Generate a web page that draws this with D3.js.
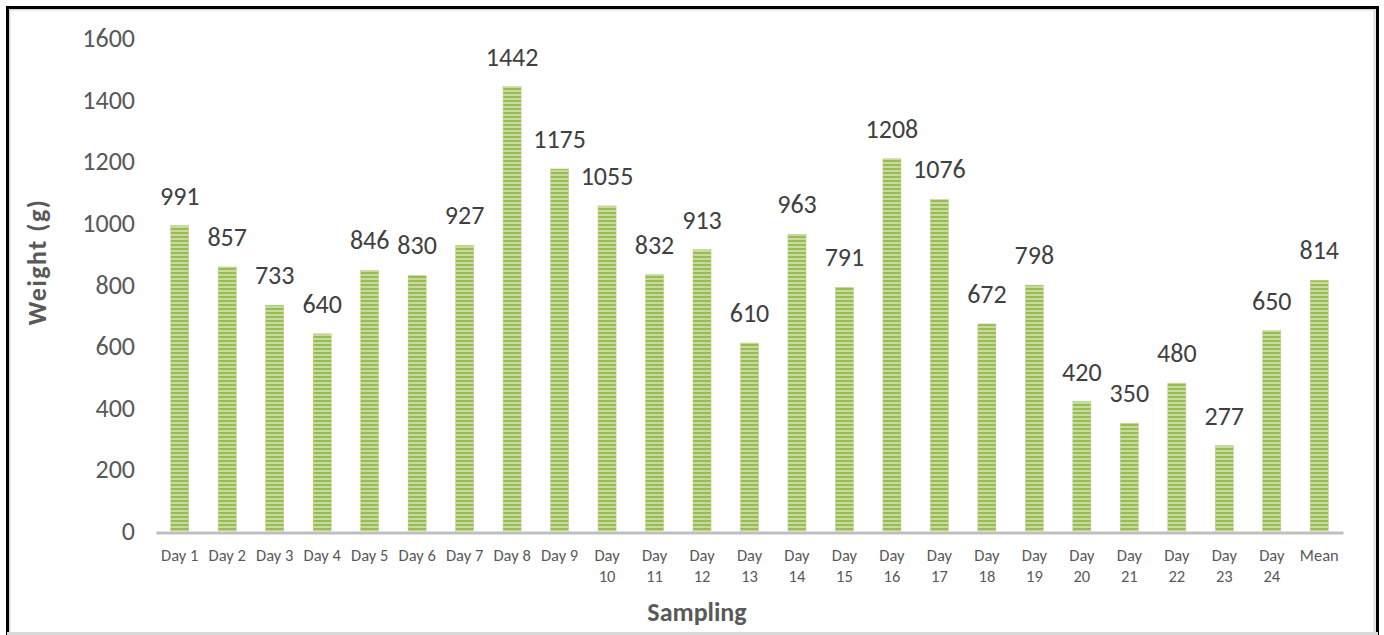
<!DOCTYPE html>
<html>
<head>
<meta charset="utf-8">
<script src="https://cdn.jsdelivr.net/npm/d3@7"></script>
<style>
  body { margin: 0; background: #fff; }
  svg text { font-family: Calibri, Carlito, "Open Sans", "Liberation Sans", sans-serif; }
</style>
</head>
<body>
<div id="chart"></div>
<script>
const days = ["Day 1", "Day 2", "Day 3", "Day 4", "Day 5", "Day 6", "Day 7", "Day 8", "Day 9",
  "Day 10", "Day 11", "Day 12", "Day 13", "Day 14", "Day 15", "Day 16", "Day 17", "Day 18",
  "Day 19", "Day 20", "Day 21", "Day 22", "Day 23", "Day 24", "Mean"];
const weights = [991, 857, 733, 640, 846, 830, 927, 1442, 1175, 1055, 832, 913, 610, 963, 791,
  1208, 1076, 672, 798, 420, 350, 480, 277, 650, 814];
const yTicks = [0, 200, 400, 600, 800, 1000, 1200, 1400, 1600];

const width = 1384, height = 635;
const plot = { left: 156, right: 1343, top: 38, bottom: 531 };

const svg = d3.select("#chart").append("svg")
  .attr("width", width)
  .attr("height", height);

// stripes in the bars
const pat = svg.append("defs").append("pattern")
  .attr("id", "stripes")
  .attr("patternUnits", "userSpaceOnUse")
  .attr("width", 8).attr("height", 4);
pat.append("rect").attr("width", 8).attr("height", 4).attr("fill", "#c7dc9c");
pat.append("rect").attr("width", 8).attr("height", 2).attr("fill", "#98bb55");

// frame
svg.append("rect").attr("x", 0).attr("y", 0).attr("width", width).attr("height", height).attr("fill", "#fff");
svg.append("rect")
  .attr("x", 9.5).attr("y", 9.5).attr("width", 1365).attr("height", 640)
  .attr("fill", "none").attr("stroke", "#d9d9d9").attr("stroke-width", 2);
svg.append("path")
  .attr("d", "M7.5,640 V7.5 H1377.5 V640")
  .attr("fill", "none").attr("stroke", "#000").attr("stroke-width", 3);
svg.append("line")
  .attr("x1", 7).attr("x2", 1378).attr("y1", 633.5).attr("y2", 633.5)
  .attr("stroke", "#d9d9d9").attr("stroke-width", 3);

const x = d3.scaleBand()
  .domain(days)
  .range([plot.left, plot.right])
  .paddingInner(0.62)
  .paddingOuter(0.31);

const y = d3.scaleLinear()
  .domain([0, 1600])
  .range([plot.bottom, plot.top]);

// y axis labels
const yAxis = d3.axisLeft(y).tickValues(yTicks).tickSize(0).tickPadding(0).tickFormat(d3.format("d"));
const gy = svg.append("g")
  .attr("transform", "translate(135,0)")
  .call(yAxis);
gy.select(".domain").remove();
gy.selectAll("text")
  .attr("fill", "#595959")
  .style("font-size", "26px")
  .attr("dy", "0.33em");

// bars
svg.selectAll(".bar")
  .data(weights)
  .enter()
  .append("rect")
  .attr("class", "bar")
  .attr("x", (d, i) => x(days[i]))
  .attr("y", d => y(d))
  .attr("width", x.bandwidth())
  .attr("height", d => y(0) - y(d))
  .attr("fill", "url(#stripes)")
  .attr("stroke", "#b5cf83")
  .attr("stroke-width", 0.5);

// value labels
svg.selectAll(".val")
  .data(weights)
  .enter()
  .append("text")
  .attr("class", "val")
  .attr("x", (d, i) => x(days[i]) + x.bandwidth() / 2)
  .attr("y", d => y(d) - 21)
  .attr("text-anchor", "middle")
  .attr("fill", "#404040")
  .style("font-size", "26px")
  .text(d => d);

// x axis
const xAxis = d3.axisBottom(x).tickSize(0).tickPadding(0);
const gx = svg.append("g")
  .attr("transform", "translate(0," + plot.bottom + ")")
  .call(xAxis);
gx.select(".domain")
  .attr("stroke", "#bfbfbf")
  .attr("stroke-width", 3)
  .attr("transform", "translate(0,1.5)");
gx.selectAll(".tick text").each(function(d) {
  const t = d3.select(this);
  t.text(null)
    .attr("y", 0)
    .attr("dy", null)
    .attr("fill", "#595959")
    .style("font-size", "16.5px");
  const num = +d.replace("Day ", "");
  if (d.startsWith("Day") && num >= 10) {
    t.append("tspan").attr("x", 0).attr("y", 30).text("Day");
    t.append("tspan").attr("x", 0).attr("y", 51).text(num);
  } else {
    t.append("tspan").attr("x", 0).attr("y", 30).text(d);
  }
});

// axis titles
svg.append("text")
  .text("Weight (g)")
  .attr("transform", "translate(46,262) rotate(-90)")
  .attr("text-anchor", "middle")
  .attr("fill", "#595959")
  .style("font-size", "26px")
  .style("letter-spacing", "1.5px")
  .style("font-weight", "bold");

svg.append("text")
  .text("Sampling")
  .attr("x", 697)
  .attr("y", 621)
  .attr("text-anchor", "middle")
  .attr("fill", "#595959")
  .style("font-size", "26px")
  .style("font-weight", "bold");
</script>
</body>
</html>
